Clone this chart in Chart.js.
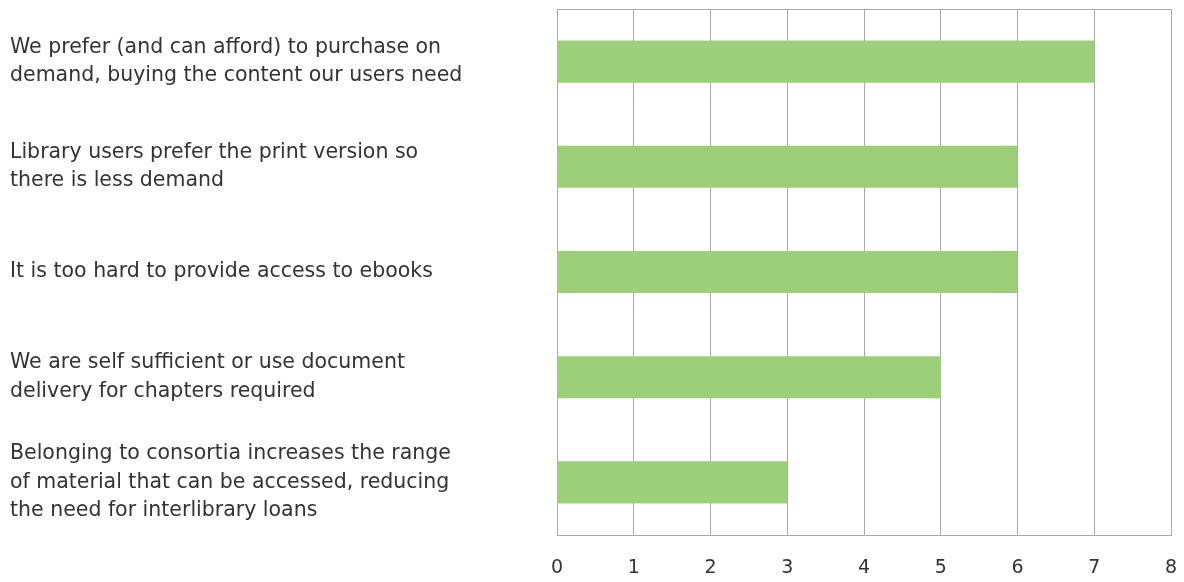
<!DOCTYPE html>
<html>
<head>
<meta charset="utf-8">
<script src="https://cdn.jsdelivr.net/npm/chart.js@4"></script>
<style>
  html, body { margin: 0; padding: 0; background: #fff; }
  #wrap { width: 1184px; height: 582px; }
</style>
</head>
<body>
<div id="wrap"><canvas id="reasonsChart"></canvas></div>
<script>
// Reasons for not using interlibrary loans for ebooks
const reasons = [
    ['We prefer (and can afford) to purchase on', 'demand, buying the content our users need'],
    ['Library users prefer the print version so', 'there is less demand'],
    'It is too hard to provide access to ebooks',
    ['We are self sufficient or use document', 'delivery for chapters required'],
    ['Belonging to consortia increases the range', 'of material that can be accessed, reducing', 'the need for interlibrary loans']
];
const responses = [7, 6, 6, 5, 3];
const xTicks = [0, 1, 2, 3, 4, 5, 6, 7, 8];

const gridColor = '#a9a9a9';
const textColor = '#333333';

// keep label overhang from shrinking the plot area
const noSidePadding = axis => {
    axis.paddingLeft = 0;
    axis.paddingRight = 0;
};

const ctx = document.getElementById('reasonsChart').getContext('2d');
new Chart(ctx, {
    type: 'bar',
    data: {
        labels: reasons,
        datasets: [{
            data: responses,
            backgroundColor: '#9dcf7b',
            barPercentage: 0.4,
            categoryPercentage: 1
        }]
    },
    options: {
        indexAxis: 'y',
        responsive: true,
        maintainAspectRatio: false,
        animation: false,
        layout: {
            padding: { left: 10, right: 13, top: 9, bottom: 0 }
        },
        scales: {
            x: {
                min: xTicks[0],
                max: xTicks[xTicks.length - 1],
                afterBuildTicks: axis => {
                    axis.ticks = xTicks.map(v => ({ value: v }));
                },
                afterFit: axis => {
                    axis.height = 47;
                    noSidePadding(axis);
                },
                grid: { color: gridColor, drawTicks: false },
                border: { color: gridColor },
                ticks: {
                    color: textColor,
                    padding: 22,
                    font: { family: 'DejaVu Sans', size: 19 }
                }
            },
            // top frame line
            xTop: {
                position: 'top',
                axis: 'x',
                min: 0,
                max: 8,
                afterFit: axis => {
                    axis.height = 0;
                    noSidePadding(axis);
                },
                grid: { display: false },
                border: { color: gridColor },
                ticks: { display: false }
            },
            y: {
                grid: { display: false },
                border: { display: false },
                afterFit: axis => {
                    axis.width = 547;
                    axis.paddingTop = 0;
                    axis.paddingBottom = 0;
                },
                ticks: {
                    color: textColor,
                    crossAlign: 'far',
                    font: { family: 'DejaVu Sans', size: 20.5, lineHeight: 1.38 }
                }
            }
        },
        plugins: {
            legend: { display: false },
            tooltip: { enabled: false }
        }
    }
});
</script>
</body>
</html>
